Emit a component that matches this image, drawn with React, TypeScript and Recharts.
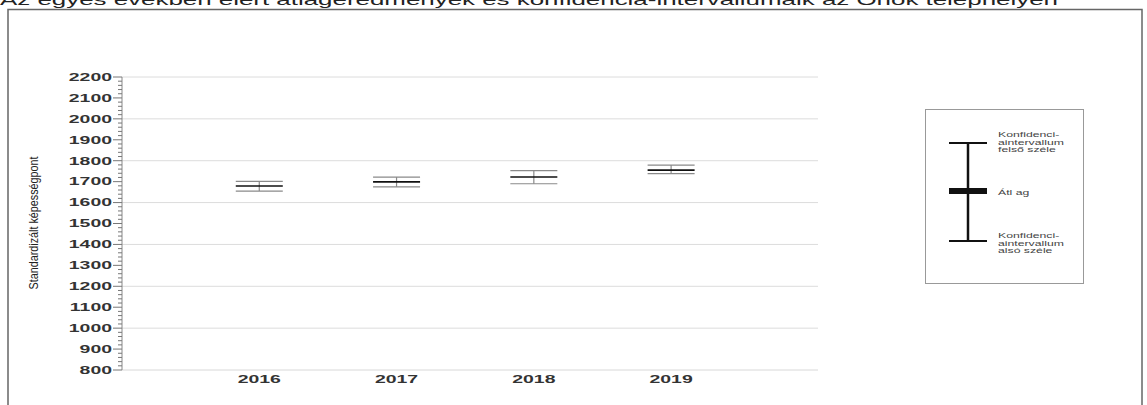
import React from 'react';
import {
  ComposedChart, Scatter, ErrorBar, XAxis, YAxis, ReferenceLine,
} from 'recharts';

// confidence interval per year
const years = [2016, 2017, 2018, 2019];
const means = [1679, 1699, 1722, 1755];
const lower = [1655, 1675, 1690, 1738];
const upper = [1701, 1722, 1753, 1779];

const majorTicks = [800, 900, 1000, 1100, 1200, 1300, 1400, 1500, 1600, 1700, 1800, 1900, 2000, 2100, 2200];
const gridValues = [1000, 1200, 1400, 1600, 1800, 2000, 2200];

const TITLE = 'Az egyes években elért átlageredmények és konfidencia-intervallumaik az Önök telephelyén';
const Y_LABEL = 'Standardizált képességpont';

const FONT = '"Liberation Sans", Arial, sans-serif';
const STRETCH = 1.85; // the source picture is stretched sideways

const data = years.map((year, i) => ({
  year,
  mean: means[i],
  err: [means[i] - lower[i], upper[i] - means[i]],
}));

// minor ticks every 20 between the labelled hundreds
const allTicks: number[] = [];
majorTicks.forEach((t, i) => {
  allTicks.push(t);
  if (i < majorTicks.length - 1) for (let k = 1; k < 5; k++) allTicks.push(t + k * 20);
});

function YTick(props: any) {
  const { x, y, payload } = props;
  const major = payload.value % 100 === 0;
  return (
    <g>
      <line x1={x - (major ? 9 : 4)} x2={x} y1={y} y2={y} stroke="#777" strokeWidth={1} />
      {major && (
        <g transform={`translate(${x - 10},${y + 3.8}) scale(${STRETCH},1)`}>
          <text x={0} y={0} textAnchor="end" fontSize={10.5} fontWeight="bold" fontFamily={FONT} fill="#333">
            {payload.value}
          </text>
        </g>
      )}
    </g>
  );
}

function XTick(props: any) {
  const { x, y, payload } = props;
  return (
    <g transform={`translate(${x},${y + 12.5}) scale(${STRETCH},1)`}>
      <text x={0} y={0} textAnchor="middle" fontSize={10.5} fontWeight="bold" fontFamily={FONT} fill="#333">
        {payload.value}
      </text>
    </g>
  );
}

function MeanMark(props: any) {
  const { cx, cy } = props;
  return <line x1={cx - 23.5} x2={cx + 23.5} y1={cy} y2={cy} stroke="#111" strokeWidth={1.6} />;
}

function LegendBox() {
  const line = (txt: string, y: number) => (
    <g key={txt + y} transform={`translate(73,${y}) scale(1.75,1)`}>
      <text x={0} y={0} fontSize={7} fontFamily={FONT} fill="#444">{txt}</text>
    </g>
  );
  return (
    <svg width={160} height={176} style={{ display: 'block' }}>
      <rect x={0.5} y={0.5} width={158} height={174} fill="#fff" stroke="#999" strokeWidth={1} />
      <line x1={43} x2={43} y1={34} y2={132} stroke="#111" strokeWidth={2.5} />
      <line x1={24} x2={62} y1={34} y2={34} stroke="#111" strokeWidth={2} />
      <line x1={24} x2={62} y1={132} y2={132} stroke="#111" strokeWidth={2} />
      <rect x={24} y={79} width={38} height={6} fill="#111" />
      {line('Konfidenci-', 28)}
      {line('aintervallum', 36)}
      {line('felső széle', 43)}
      {line('Átl ag', 86)}
      {line('Konfidenci-', 129)}
      {line('aintervallum', 137)}
      {line('alsó széle', 144)}
    </svg>
  );
}

export default function App() {
  return (
    <div style={{ position: 'absolute', left: 0, top: 0, width: 1147, height: 405, background: '#fff', overflow: 'hidden' }}>
      <svg width={1147} height={405} style={{ position: 'absolute', left: 0, top: 0 }}>
        <text x={0} y={5} fontSize={15} fontFamily={FONT} fill="#222" textLength={1058} lengthAdjust="spacingAndGlyphs">
          {TITLE}
        </text>
        <rect x={8} y={9.5} width={1134} height={420} fill="none" stroke="#666" strokeWidth={1.5} />
        <g transform="translate(33,223) rotate(-90)">
          <text x={0} y={4.5} textAnchor="middle" fontSize={13} fontFamily={FONT} fill="#222" textLength={133} lengthAdjust="spacingAndGlyphs">
            {Y_LABEL}
          </text>
        </g>
      </svg>
      <div style={{ position: 'absolute', left: 0, top: 0 }}>
        <ComposedChart width={1147} height={405} data={data} margin={{ top: 77, right: 329, bottom: 5, left: 0 }}>
          <XAxis
            dataKey="year"
            type="number"
            domain={[2015, 2020.07]}
            ticks={years}
            height={30}
            tickSize={0}
            tickMargin={0}
            tickLine={false}
            axisLine={{ stroke: '#d8d8d8' }}
            tick={<XTick />}
            allowDecimals={false}
          />
          <YAxis
            type="number"
            domain={[800, 2200]}
            ticks={allTicks}
            interval={0}
            width={122}
            tickSize={0}
            tickMargin={0}
            tickLine={false}
            axisLine={{ stroke: '#888' }}
            tick={<YTick />}
          />
          {gridValues.map((v) => (
            <ReferenceLine key={v} y={v} stroke="#dcdcdc" strokeWidth={1} />
          ))}
          <Scatter dataKey="mean" isAnimationActive={false} shape={<MeanMark />}>
            <ErrorBar dataKey="err" direction="y" width={23.5} stroke="#8a8a8a" strokeWidth={1.2} isAnimationActive={false} />
          </Scatter>
        </ComposedChart>
      </div>
      <div style={{ position: 'absolute', left: 925, top: 109 }}>
        <LegendBox />
      </div>
    </div>
  );
}
